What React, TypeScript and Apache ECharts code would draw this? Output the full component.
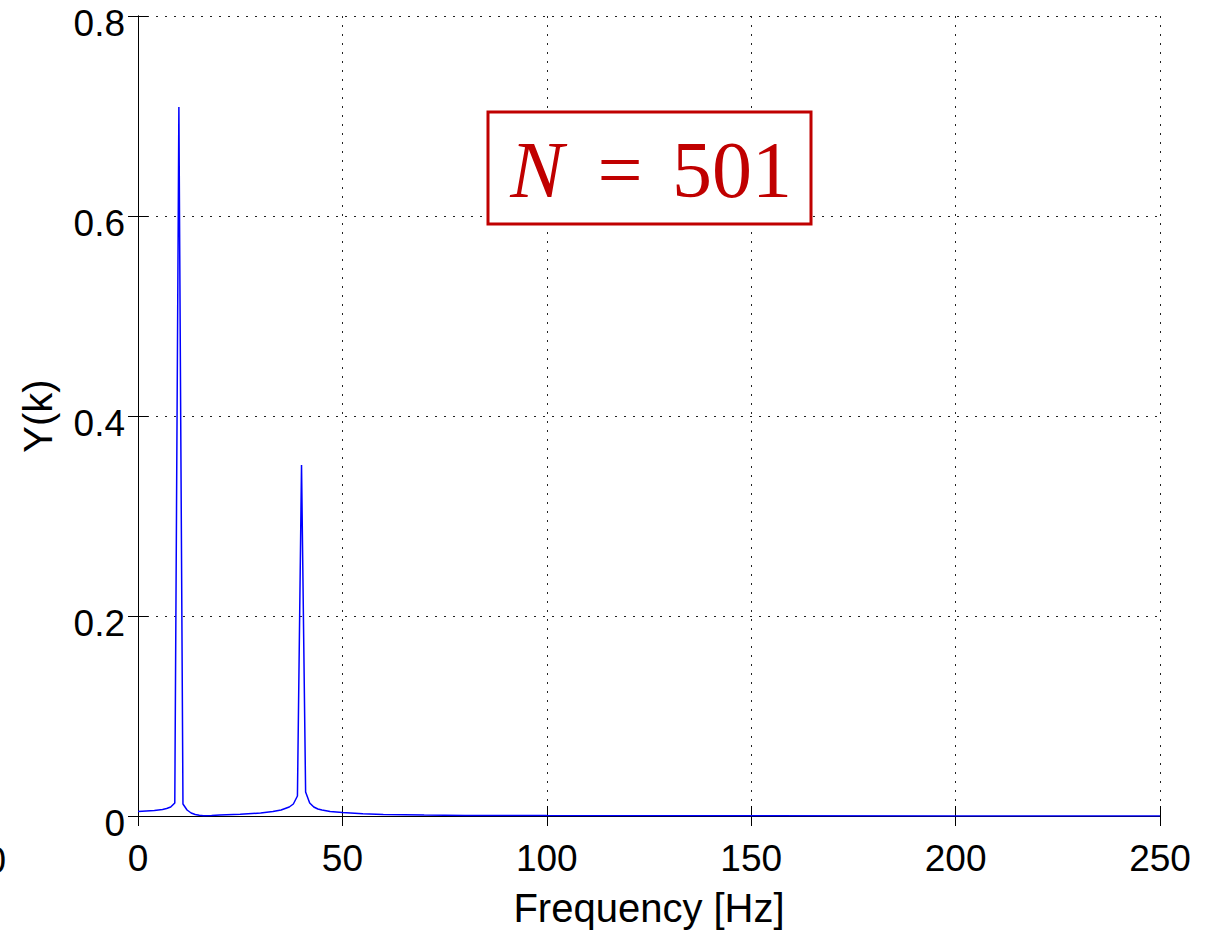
import React, { useEffect, useRef } from "react";
import * as echarts from "echarts";

const freqHz = [0, 2, 4, 6, 7, 8, 9, 10, 11, 12, 13, 14, 15, 16, 18, 20, 25, 30, 33, 35, 36, 37, 38, 39, 40, 41, 42, 43, 44, 45, 47, 50, 55, 60, 70, 80, 100, 150, 200, 250];
const amplitude = [0.0045, 0.005, 0.0055, 0.0065, 0.0075, 0.009, 0.013, 0.709, 0.012, 0.006, 0.003, 0.0015, 0.0007, 0.0003, 0.0005, 0.001, 0.0018, 0.003, 0.0045, 0.006, 0.0075, 0.009, 0.012, 0.02, 0.351, 0.024, 0.013, 0.009, 0.007, 0.006, 0.0045, 0.0035, 0.0022, 0.0015, 0.0009, 0.0006, 0.0004, 0.0002, 0.0001, 0.0001];
const xTicks = { min: 0, max: 250, interval: 50 };
const yTicks = { min: 0, max: 0.8, interval: 0.2 };
const annotationParts = ["N", "=", "501"];

export default function App() {
  const ref = useRef<HTMLDivElement>(null);
  useEffect(() => {
    if (!ref.current) return;
    const chart = echarts.init(ref.current, undefined, { renderer: "svg" });
    const font = "Liberation Sans, Arial, Helvetica, sans-serif";
    const serif = "Liberation Serif, DejaVu Serif, serif";
    const data = freqHz.map((f, i) => [f, amplitude[i]]);
    const axisLine = { show: true, lineStyle: { color: "#000", width: 1 } };
    const tick = { show: true, inside: true, length: 10, lineStyle: { color: "#000", width: 1 } };
    const grid = { show: true, lineStyle: { color: "#222", type: [2, 7] as any, width: 1 } };
    const red = "#c00000";
    chart.setOption({
      animation: false,
      backgroundColor: "#fff",
      grid: { left: 138, right: 60, top: 16, bottom: 111, containLabel: false },
      xAxis: [
        {
          type: "value",
          min: xTicks.min,
          max: xTicks.max,
          interval: xTicks.interval,
          position: "bottom",
          name: "Frequency [Hz]",
          nameLocation: "middle",
          nameGap: 72,
          nameTextStyle: { fontFamily: font, fontSize: 40, color: "#000" },
          axisLine,
          axisTick: tick,
          splitLine: grid,
          axisLabel: { fontFamily: font, fontSize: 37, color: "#000", margin: 24 },
        },
        {
          type: "value",
          min: xTicks.min,
          max: xTicks.max,
          interval: xTicks.interval,
          position: "top",
          axisLine,
          axisTick: tick,
          splitLine: { show: false },
          axisLabel: { show: false },
        },
      ],
      yAxis: [
        {
          type: "value",
          min: yTicks.min,
          max: yTicks.max,
          interval: yTicks.interval,
          position: "left",
          name: "Y(k)",
          nameLocation: "middle",
          nameGap: 80,
          nameTextStyle: { fontFamily: font, fontSize: 40, color: "#000" },
          axisLine,
          axisTick: tick,
          splitLine: grid,
          axisLabel: { fontFamily: font, fontSize: 37, color: "#000", margin: 13, verticalAlign: "top", lineHeight: 14 },
        },
        {
          type: "value",
          min: yTicks.min,
          max: yTicks.max,
          interval: yTicks.interval,
          position: "right",
          axisLine,
          axisTick: tick,
          splitLine: { show: false },
          axisLabel: { show: false },
        },
      ],
      series: [
        {
          type: "line",
          xAxisIndex: 0,
          yAxisIndex: 0,
          data,
          showSymbol: false,
          smooth: false,
          lineStyle: { color: "#0000ff", width: 1.5 },
          z: 3,
        },
      ],
      graphic: [
        {
          type: "rect",
          shape: { x: 488, y: 112, width: 323, height: 112 },
          style: { fill: "#fff", stroke: red, lineWidth: 3 },
          z: 10,
        },
        {
          type: "text",
          x: 537,
          y: 170,
          style: { text: annotationParts[0], fontFamily: serif, fontStyle: "italic", fontSize: 80, fill: red, align: "center", verticalAlign: "middle" },
          z: 11,
        },
        {
          type: "text",
          x: 620,
          y: 170,
          style: { text: annotationParts[1], fontFamily: serif, fontSize: 80, fill: red, align: "center", verticalAlign: "middle" },
          z: 11,
        },
        {
          type: "text",
          x: 732,
          y: 170,
          style: { text: annotationParts[2], fontFamily: serif, fontSize: 80, fill: red, align: "center", verticalAlign: "middle" },
          z: 11,
        },
        {
          type: "text",
          x: 6,
          y: 860,
          style: { text: "0", fontFamily: font, fontSize: 37, fill: "#000", align: "right", verticalAlign: "middle" },
          z: 11,
        },
      ],
    });
    return () => chart.dispose();
  }, []);
  return <div ref={ref} style={{ position: "fixed", left: 0, top: 0, width: 1220, height: 933 }} />;
}
